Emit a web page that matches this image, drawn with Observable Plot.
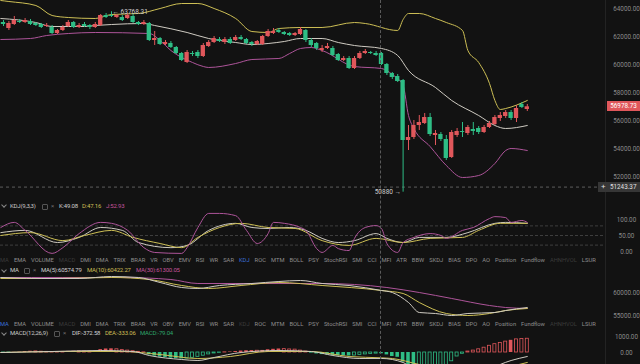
<!DOCTYPE html>
<html><head><meta charset="utf-8">
<script src="https://cdn.jsdelivr.net/npm/d3@7"></script>
<script src="https://cdn.jsdelivr.net/npm/@observablehq/plot@0.6"></script>
<style>
html,body{margin:0;padding:0;background:#121212;}
#root{position:relative;width:640px;height:364px;overflow:hidden;background:#121212;font-family:Roboto,"Noto Sans",sans-serif;}
.t{position:absolute;white-space:nowrap;line-height:1;letter-spacing:-0.2px;}
.bar{position:absolute;display:flex;white-space:nowrap;line-height:1;}
</style></head><body><div id="root"></div>
<script>
// ---------- DATA ----------
const candleOpen = [63000,62571,62857,63071,63000,63071,62929,62857,62714,62643,
62214,62429,62714,63000,62643,62857,62786,62643,62786,63500,
63500,63357,63357,63286,63429,63000,62857,62929,61714,61857,
61429,61500,61214,60786,60143,60786,60857,60571,61286,61571,
61786,61571,61786,61714,61929,61786,61571,61429,61429,62000,
62214,62429,62286,62214,62071,62143,62429,61714,61500,61000,
61143,61143,60714,60286,60429,59714,60429,60786,60857,60786,
60786,60000,59357,59143,58857,54571,54786,55643,55786,56214,
54929,55000,54643,53357,54929,55214,55071,55357,55429,55143,
55500,55714,56143,56286,56571,56143,57143,56786];
const candleClose = [62857,62929,63143,63000,63143,62857,62786,62643,62786,62214,
62429,62643,63000,62643,62786,62714,62643,62857,63500,63357,
63429,63500,63143,63500,63000,62857,63000,61714,61857,61429,
61571,61214,60786,60286,60857,60714,60571,61357,61571,61857,
61643,61786,61500,61929,61786,61500,61429,61643,62000,62357,
62357,62286,62143,62071,62214,62500,61714,61357,61143,61143,
61286,60643,60286,60429,59714,60429,60786,60929,60786,60643,
60000,59357,59071,58786,54571,54786,55643,55857,56214,55000,
55071,54643,53286,55143,55214,55143,55500,55214,55143,55500,
55786,56214,56357,56571,56143,56857,56929,56978.73];
const candleHigh = [63143,63071,63429,63214,63286,63214,63000,62929,62929,62786,
62500,62786,63143,63071,62929,63000,62857,63000,63571,63643,
63768.31,63571,63500,63643,63571,63071,63143,63000,62357,61929,
61714,61643,61286,60857,61000,60929,61000,61500,61714,62000,
61929,61929,61929,62071,62071,61857,61643,61714,62071,62500,
62571,62571,62357,62286,62286,62643,62500,61857,61571,61357,
61500,61286,60786,60571,60571,60571,60929,61071,60929,60929,
60857,60071,59429,59286,58929,55643,56000,56357,56500,56500,
55286,55143,54929,55286,55429,55857,55643,55857,55571,55643,
55929,56357,56571,56714,56714,57071,57286,57143];
const candleLow = [62714,62429,62786,62929,62929,62786,62714,62571,62643,62143,
62143,62357,62643,62571,62571,62643,62500,62571,62714,63286,
63357,63286,63071,63214,62929,62786,62786,61643,61357,61357,
61357,61143,60714,60214,60071,60571,60429,60500,61214,61500,
61571,61429,61429,61643,61714,61429,61286,61357,61357,61929,
62143,62214,62071,62000,62000,62071,61571,61214,61000,60857,
61071,60571,60214,60214,59643,59643,60357,60714,60714,60571,
59929,59214,58929,58714,50880,53857,54643,55286,55714,54857,
54214,54500,53143,53286,54786,54786,54929,54929,55000,55071,
55429,55643,55929,56143,56000,55857,56857,56643];

const highLabel = {i: 20, price: 63768.31};
const lowLabel = {i: 74, price: 50880};
const lastPrice = 56978.73;
const crossPrice = 51243.37;
const priceTicks = [52000,54000,56000,58000,60000,62000,64000];

const bollUpperIdx = [-0.5,1,6,9,12,17,20,25,29,33,36,39,43,46,49,51,55,59,65,67,73,74,75,77,80,82,85,86,88,90,91,92,93,97];
const bollUpper = [64571,64500,64214,63500,63357,63286,63571,63643,64000,64357,64357,64000,63286,62357,62286,62571,62643,62643,63000,62929,62429,63214,63643,63643,63286,63000,62429,61000,60143,58643,57429,56786,56857,57429];
const bollMidIdx = [-0.5,6,9,15,17,20,26,28,34,38,43,46,49,52,55,59,62,65,70,73,75,80,83,88,91,93,97];
const bollMid = [63286,63000,62714,62714,62786,62857,62929,62786,62286,61857,61571,61429,61500,61643,61857,61857,61571,61357,61143,60643,59571,58357,57429,56357,55643,55429,55643];
const bollLowerIdx = [-0.5,5,8,12,17,27,29,31,35,37,38,43,46,51,53,55,57,59,65,70,72,74,75,76,79,82,85,88,91,93,94,97];
const bollLower = [61786,61857,62071,62214,62286,62214,61714,61000,60143,59857,59786,60071,60357,60429,60786,61143,61214,61000,59857,59714,59286,58500,56357,55429,54143,52786,51929,52071,52929,53857,54000,53857];

const kIdx = [-0.5,4,10,14,18,22,25,31,34,38,43,46,49,53,56,59,62,65,69,71,74,77,82,86,91,93,97];
const kVal = [59,66,28,44,75,66,28,12,19,66,88,75,72,75,66,41,28,34,56,41,28,44,44,59,88,91,88];
const dIdx = [-0.5,5,11,15,20,24,29,33,36,40,44,49,54,59,64,69,74,79,85,88,92,97];
const dVal = [50,59,34,50,66,44,25,12,44,75,88,75,72,34,19,41,28,41,44,66,88,88];
const jIdx = [-0.5,2,4,9,11,14,18,20,23,26,28,33,34,36,38,40,43,45,47,49,50,52,55,56,58,59,61,62,64,65,67,69,70,71,73,74,76,79,81,82,85,87,90,91,93,94,96,97];
const jVal = [75,91,66,-6,12,56,91,88,66,12,-3,-6,12,75,119,119,112,66,25,56,91,88,75,66,9,-3,19,9,3,41,75,81,72,25,-3,28,44,56,50,41,66,75,103,109,106,91,97,91];
const kdjTicks = [0,50,100];
const kdjLevels = [20,50,80];

const ma5Idx = [-0.5,7,14,20,25,29,33,36,40,46,51,55,59,64,70,72,75,77,80,83,86,91,93,97];
const ma5 = [63261,63043,63043,63478,63261,62174,61087,60870,61522,61957,62391,62609,61957,61522,60435,60000,57826,55652,55435,55000,55435,55652,56087,56739];
const ma10Idx = [-0.5,9,20,27,33,38,44,51,59,70,74,77,82,86,90,93,97];
const ma10 = [63043,63043,63261,62826,61522,60870,61522,62174,61522,60435,59783,57826,55435,55000,55435,56087,56522];
const ma30Idx = [-0.5,11,22,31,36,46,59,71,77,83,90,93,97];
const ma30 = [63261,63261,63261,62826,61957,61957,61957,61087,60000,58696,57174,56739,56522];
const maTicks = [55000,60000];

const macdHist = [-30,-20,10,20,60,80,70,50,40,30,
20,40,70,80,70,60,50,80,180,220,
230,200,150,120,80,40,10,-150,-220,-280,
-320,-350,-380,-400,-380,-330,-270,-200,-120,-60,
-20,10,30,60,90,110,120,110,130,170,
200,220,210,190,180,120,60,-40,-90,-130,
-150,-180,-200,-210,-220,-190,-150,-120,-90,-70,
-79.04,-150,-250,-300,-600,-850,-1000,-1100,-1080,-1050,
-1000,-950,-850,-550,-250,-80,60,120,200,300,
420,520,600,680,760,820,850,860];
const macdFilled = [0,0,1,1,1,1,0,0,0,0,
0,0,1,1,0,0,0,1,1,1,
1,0,0,0,0,0,0,1,1,1,
1,1,1,1,0,0,0,0,0,0,
0,0,1,1,1,1,1,0,1,1,
1,1,0,0,0,0,0,1,1,1,
1,1,1,1,1,0,0,0,0,0,
1,1,1,1,1,1,1,0,0,0,
0,0,0,0,0,0,0,0,0,0,
0,0,0,0,1,0,0,0];
const difIdx = [-0.5,9,18,24,27,33,36,39,44,51,57,61,66,70,74,77,85,90,94,97];
const dif = [0,62,125,62,-188,-438,-500,-312,0,125,62,-188,-375,-372.58,-625,-1250,-1438,-1000,-500,-250];
const deaIdx = [-0.5,11,22,29,36,42,49,57,64,70,72,77,85,92,97];
const dea = [0,62,62,-125,-375,-250,62,62,-250,-333.06,-375,-750,-1250,-1000,-625];
const macdTicks = [0,1000];

const toolbarItems = ["MA","EMA","VOLUME","MACD","DMI","DMA","TRIX","BRAR","VR","OBV","EMV","RSI","WR","SAR","KDJ","ROC","MTM","BOLL","PSY","StochRSI","SMI","CCI","MFI","ATR","BBW","SKDJ","BIAS","DPO","AO","Position","Fundflow","AHNHVOL","LSUR"];
const kdjHeader = ["KDJ(9,3,3)","K:49.08","D:47.16","J:52.93"];
const maHeader = ["MA","MA(5):60574.79","MA(10):60422.27","MA(30):61300.05"];
const macdHeader = ["MACD(12,26,9)","DIF:-372.58","DEA:-333.06","MACD:-79.04"];

// ---------- STYLE / LAYOUT ----------
const RED = "#e0575b", GREEN = "#2ebd85", YEL = "#cdbf55", PUR = "#ad5499", WHT = "#cfcbc2";
const AXW = 605;
const xDom = [-3/5.4, (AXW-3)/5.4];
const root = document.getElementById("root");
const baseStyle = {background:"transparent", color:"#8b8b8b", fontFamily:"Roboto, sans-serif", fontSize:"6.3px", overflow:"visible"};
const pairs = (idx, val) => idx.map((i,k) => ({i, v: val[k]}));
const axisR = ticks => Plot.axisY(ticks, {anchor:"right", label:null, tickSize:0, tickPadding:21, textAnchor:"middle", tickFormat:d => d.toFixed(2), fill:"#8b8b8b"});
function place(el, top){ el.style.position="absolute"; el.style.left="0px"; el.style.top=top+"px"; root.appendChild(el); return el; }
function opts(height, yDomain, marks){
  return {width:640, height, marginLeft:0, marginRight:640-AXW, marginTop:0, marginBottom:0,
    x:{domain:xDom, axis:null}, y:{domain:yDomain, axis:null, label:null}, color:{type:"identity"},
    style:baseStyle, marks};
}

// main price panel
const candles = candleOpen.map((o,i) => ({i, o, c:candleClose[i], h:candleHigh[i], l:candleLow[i], col: candleClose[i] >= o ? RED : GREEN}));
const main = Plot.plot(opts(197, [50500, 64000 + 8/0.014], [
  Plot.ruleY([crossPrice], {stroke:"#5e5e5e", strokeDasharray:"3,3"}),
  Plot.line(pairs(bollUpperIdx, bollUpper), {x:"i", y:"v", stroke:YEL, strokeWidth:1, curve:"monotone-x"}),
  Plot.line(pairs(bollMidIdx, bollMid), {x:"i", y:"v", stroke:WHT, strokeWidth:1, curve:"monotone-x"}),
  Plot.line(pairs(bollLowerIdx, bollLower), {x:"i", y:"v", stroke:PUR, strokeWidth:1, curve:"monotone-x"}),
  Plot.ruleX(candles, {x:"i", y1:"l", y2:"h", stroke:"col", strokeWidth:1}),
  Plot.rect(candles, {x1:d => d.i-0.4, x2:d => d.i+0.4, y1:"o", y2:"c", fill:"col"}),
  Plot.text([highLabel], {x:"i", y:"price", text:d => "← " + d.price.toFixed(2), textAnchor:"start", dx:1, fill:"#cfcfcf", fontSize:6.5}),
  Plot.text([lowLabel], {x:"i", y:"price", text:d => d.price + " →", textAnchor:"end", dx:-2, fill:"#cfcfcf", fontSize:6.5}),
  axisR(priceTicks)
]));
place(main, 0);

// KDJ panel
const kdj = Plot.plot(opts(50, [(251-258)/0.32, (251-208)/0.32], [
  Plot.ruleY(kdjLevels, {stroke:"#3e3e3e", strokeDasharray:"3,2"}),
  Plot.line(pairs(kIdx,kVal), {x:"i", y:"v", stroke:WHT, strokeWidth:1, curve:"monotone-x"}),
  Plot.line(pairs(dIdx,dVal), {x:"i", y:"v", stroke:YEL, strokeWidth:1, curve:"monotone-x"}),
  Plot.line(pairs(jIdx,jVal), {x:"i", y:"v", stroke:PUR, strokeWidth:1, curve:"monotone-x"}),
  axisR(kdjTicks)
]));
place(kdj, 208);

// MA panel
const maP = Plot.plot(opts(50, [60000-(324-292)*217.39, 60000-(274-292)*217.39], [
  Plot.line(pairs(ma30Idx,ma30), {x:"i", y:"v", stroke:PUR, strokeWidth:1, curve:"monotone-x"}),
  Plot.line(pairs(ma10Idx,ma10), {x:"i", y:"v", stroke:YEL, strokeWidth:1, curve:"monotone-x"}),
  Plot.line(pairs(ma5Idx,ma5), {x:"i", y:"v", stroke:WHT, strokeWidth:1, curve:"monotone-x"}),
  axisR(maTicks)
]));
place(maP, 274);

// MACD panel
const hist = macdHist.map((v,i) => ({i, v, f: macdFilled[i], col: v >= 0 ? RED : GREEN}));
const macdP = Plot.plot(opts(34, [(352-364)*62.5, (352-330)*62.5], [
  Plot.rect(hist.filter(d => d.f), {x1:d => d.i-0.33, x2:d => d.i+0.33, y1:0, y2:"v", fill:"col", clip:true}),
  Plot.rect(hist.filter(d => !d.f), {x1:d => d.i-0.28, x2:d => d.i+0.28, y1:0, y2:"v", fill:"none", stroke:"col", strokeWidth:0.8, clip:true}),
  Plot.line(pairs(deaIdx,dea), {x:"i", y:"v", stroke:YEL, strokeWidth:1, curve:"monotone-x", clip:true}),
  Plot.line(pairs(difIdx,dif), {x:"i", y:"v", stroke:WHT, strokeWidth:1, curve:"monotone-x", clip:true}),
  axisR(macdTicks)
]));
place(macdP, 330);

// ---------- OVERLAYS ----------
function div(css){ const d=document.createElement("div"); d.style.cssText="position:absolute;"+css; root.appendChild(d); return d; }
function txt(x, cy, s, color, size=6){ const d=div(`left:${x}px;top:${cy-size/2-0.5}px;font-size:${size}px;color:${color};`); d.className="t"; d.textContent=s; return d; }

// right axis separator and crosshair
div(`left:${AXW}px;top:0;width:1px;height:364px;background:#232323;`);
div(`left:380px;top:0;width:0;height:364px;border-left:1px dashed #5a5a5a;`);

// last price + crosshair price tags
const yLast = main.scale("y").apply(lastPrice);
const lp = div(`left:607px;top:${yLast-5}px;width:33px;height:10px;background:${RED};color:#fff;font-size:6.3px;line-height:10px;text-align:center;`);
lp.textContent = lastPrice.toFixed(2);
const yCross = main.scale("y").apply(crossPrice);
const cp = div(`left:598px;top:${yCross-5}px;width:42px;height:10px;background:#363636;color:#e0e0e0;font-size:6.3px;line-height:10px;`);
cp.innerHTML = `<span style="position:absolute;left:3px;font-size:8px;color:#ddd;">+</span><span style="position:absolute;left:12px;">${crossPrice.toFixed(2)}</span>`;

// panel headers
function chevron(cy){ div(`left:2px;top:${cy-3}px;width:3px;height:3px;border-right:1px solid #888;border-bottom:1px solid #888;transform:rotate(45deg);`); }
function icon(x, cy){ div(`left:${x}px;top:${cy-2.5}px;width:4px;height:4px;border:1px solid #555;border-radius:1px;`); }
function header(cy, items, xs, colors, iconX, closeX){
  chevron(cy);
  txt(xs[0], cy, items[0], "#c8c8c8");
  icon(iconX, cy);
  txt(closeX, cy, "×", "#6f6f6f");
  for (let k=1;k<items.length;k++) txt(xs[k], cy, items[k], colors[k]);
}
header(206, kdjHeader, [10,59,82,106], [null,"#d0d0d0",YEL,"#c4549d"], 42, 51);
header(270.7, maHeader, [10,41,87,136], [null,"#d0d0d0",YEL,"#c4549d"], 24, 33);
header(333.5, macdHeader, [10,72,105,140], [null,"#d0d0d0",YEL,"#2ea56b"], 54, 63);

// indicator toolbars
function toolbar(cy, active, dim){
  const b = div(`left:0px;top:${cy-3.5}px;font-size:5.8px;gap:5px;`);
  b.className = "bar";
  toolbarItems.forEach(s => {
    const sp = document.createElement("span");
    sp.textContent = s;
    sp.style.color = s === active ? "#3a6fd8" : (dim.includes(s) ? "#3b3b3b" : "#8e8e8e");
    b.appendChild(sp);
  });
}
toolbar(261.7, "KDJ", ["MA","MACD","AHNHVOL"]);
toolbar(325, "MA", ["MACD","KDJ","AHNHVOL"]);
</script></body></html>
